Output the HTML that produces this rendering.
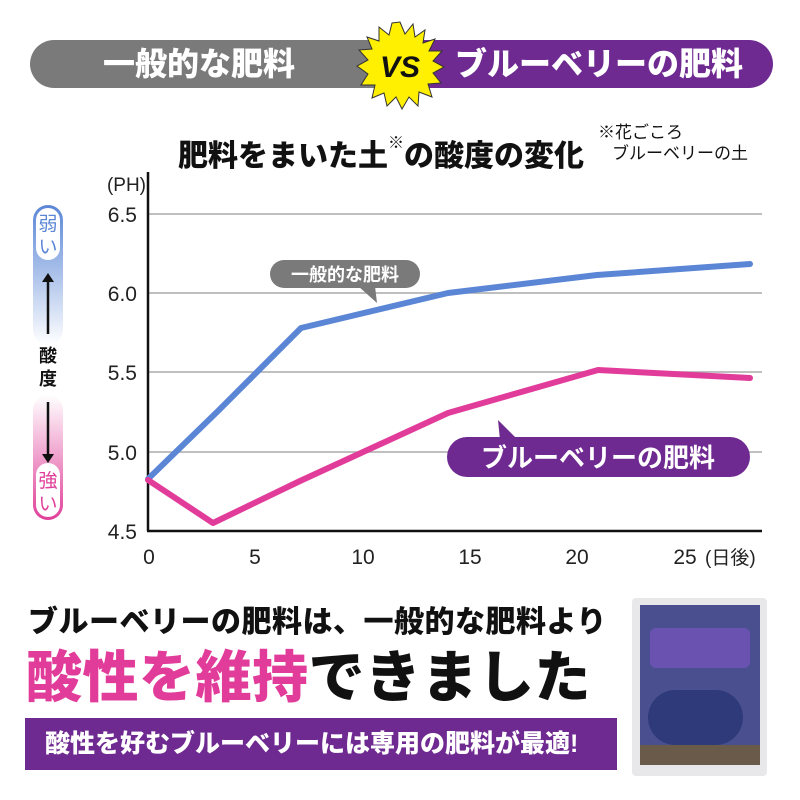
<!DOCTYPE html>
<html><head><meta charset="utf-8"><style>
html,body{margin:0;padding:0;background:#fff;}
body{width:800px;height:800px;position:relative;overflow:hidden;font-family:"Liberation Sans","Noto Sans CJK JP",sans-serif;}
.a{position:absolute;white-space:nowrap;}
.b{font-weight:900;}
</style></head><body>
<div class="a" style="left:30px;top:40px;width:380px;height:48px;background:#7a7a7a;border-radius:24px 0 0 24px;"></div>
<div class="a" style="left:400px;top:40px;width:373px;height:48px;background:#6f2a92;border-radius:0 24px 24px 0;"></div>
<div class="a b" style="left:103px;top:43px;font-size:32px;color:#fff;line-height:42px;">一般的な肥料</div>
<div class="a b" style="left:455px;top:43px;font-size:32px;color:#fff;line-height:42px;">ブルーベリーの肥料</div>
<svg class="a" style="left:355px;top:20px" width="90" height="90" viewBox="0 0 90 90">
<polygon fill="#ffef00" stroke="#333" stroke-width="1" points="45,2 50,14 58,4 60,17 70,10 68,23 80,19 74,31 87,31 78,41 89,47 78,53 86,63 73,64 77,77 64,72 63,86 54,77 47,89 41,77 32,86 29,73 17,78 20,65 6,65 13,54 2,46 13,40 4,30 17,29 12,17 24,21 24,7 34,15 37,3"/>
<text x="45" y="57" text-anchor="middle" font-family="Liberation Sans,sans-serif" font-weight="bold" font-style="italic" font-size="30" fill="#111">VS</text>
</svg>
<div class="a b" style="left:178px;top:126px;font-size:30px;line-height:36px;color:#111;">肥料をまいた土<span style="font-size:16px;vertical-align:18px;">※</span>の酸度の変化</div>
<div class="a" style="left:598px;top:122px;font-size:17px;line-height:21px;color:#111;">※花ごころ<br><span style="padding-left:14px">ブルーベリーの土</span></div>
<svg class="a" style="left:0;top:0" width="800" height="600">
<defs>
<linearGradient id="g1" x1="0" y1="0" x2="0" y2="1"><stop offset="0" stop-color="#5b86d6"/><stop offset="1" stop-color="#fff"/></linearGradient>
<linearGradient id="g2" x1="0" y1="0" x2="0" y2="1"><stop offset="0" stop-color="#fff"/><stop offset="1" stop-color="#e0409a"/></linearGradient>
</defs>
<rect x="33" y="205" width="30" height="140" rx="15" fill="url(#g1)"/>
<rect x="36" y="208" width="24" height="52" rx="12" fill="#fff"/>
<rect x="33" y="395" width="30" height="125" rx="15" fill="url(#g2)"/>
<rect x="36" y="463" width="24" height="54" rx="12" fill="#fff"/>
<text x="48" y="230" text-anchor="middle" font-size="19" fill="#5b86d6" font-family="Noto Sans CJK JP,sans-serif">弱</text>
<text x="48" y="253" text-anchor="middle" font-size="19" fill="#5b86d6" font-family="Noto Sans CJK JP,sans-serif">い</text>
<text x="48" y="487" text-anchor="middle" font-size="19" fill="#e0409a" font-family="Noto Sans CJK JP,sans-serif">強</text>
<text x="48" y="510" text-anchor="middle" font-size="19" fill="#e0409a" font-family="Noto Sans CJK JP,sans-serif">い</text>
<line x1="48" y1="278" x2="48" y2="334" stroke="#111" stroke-width="2.5"/><polygon points="42,282 54,282 48,273" fill="#111"/>
<line x1="48" y1="402" x2="48" y2="458" stroke="#111" stroke-width="2.5"/><polygon points="42,454 54,454 48,463" fill="#111"/>
<text x="48" y="362" text-anchor="middle" font-size="18" font-weight="bold" fill="#111" font-family="Noto Sans CJK JP,sans-serif">酸</text>
<text x="48" y="385" text-anchor="middle" font-size="18" font-weight="bold" fill="#111" font-family="Noto Sans CJK JP,sans-serif">度</text>
<g stroke="#aaa" stroke-width="1.5">
<line x1="148" y1="214" x2="762" y2="214"/><line x1="148" y1="293" x2="762" y2="293"/><line x1="148" y1="372" x2="762" y2="372"/><line x1="148" y1="452" x2="762" y2="452"/>
</g>
<line x1="148" y1="172" x2="148" y2="531" stroke="#111" stroke-width="2.5"/>
<line x1="147" y1="531" x2="762" y2="531" stroke="#111" stroke-width="2.5"/>
<g font-family="Liberation Sans,sans-serif" font-size="21" fill="#222" text-anchor="end">
<text x="137" y="222">6.5</text><text x="137" y="301">6.0</text><text x="137" y="380">5.5</text><text x="137" y="460">5.0</text><text x="137" y="539">4.5</text>
<text x="146" y="191" font-size="19">(PH)</text>
</g>
<g font-family="Liberation Sans,sans-serif" font-size="21" fill="#222" text-anchor="middle">
<text x="149" y="564">0</text><text x="255" y="564">5</text><text x="363" y="564">10</text><text x="470" y="564">15</text><text x="577" y="564">20</text><text x="685" y="564">25</text>
</g>
<text x="705" y="564" font-size="19" fill="#222" font-family="Liberation Sans,Noto Sans CJK JP,sans-serif">(日後)</text>
<polyline fill="none" stroke="#5b86d6" stroke-width="6" stroke-linejoin="round" stroke-linecap="round" points="148,479 218,411 301,328 448,293 597,275 750,264"/>
<polyline fill="none" stroke="#e23c9b" stroke-width="6" stroke-linejoin="round" stroke-linecap="round" points="148,480 213,523 300,481 448,413 598,370 750,378"/>
<rect x="270" y="260" width="150" height="28" rx="14" fill="#7a7a7a"/>
<polygon points="358,286 375,286 377,303" fill="#7a7a7a"/>
<text x="345" y="281" text-anchor="middle" font-size="18" font-weight="bold" fill="#fff" font-family="Noto Sans CJK JP,sans-serif">一般的な肥料</text>
<rect x="447" y="437" width="303" height="40" rx="20" fill="#6f2a92"/>
<polygon points="498,420 500,440 518,440" fill="#6f2a92"/>
<text x="598" y="467" text-anchor="middle" font-size="26" font-weight="bold" fill="#fff" font-family="Noto Sans CJK JP,sans-serif">ブルーベリーの肥料</text>
</svg>
<div class="a b" style="left:28px;top:603px;font-size:30px;line-height:40px;color:#111;letter-spacing:0.5px;">ブルーベリーの肥料は、一般的な肥料より</div>
<div class="a b" style="left:26px;top:645px;font-size:56px;line-height:66px;color:#111;letter-spacing:0.5px;"><span style="color:#e23c9b">酸性を維持</span>できました</div>
<div class="a" style="left:25px;top:718px;width:592px;height:52px;background:#6f2a92;"></div>
<div class="a b" style="left:45px;top:727px;font-size:25px;line-height:34px;color:#fff;">酸性を好むブルーベリーには専用の肥料が最適!</div>
<div class="a" style="left:632px;top:598px;width:135px;height:178px;background:#e8e8ea;border-radius:4px;"></div>
<div class="a" style="left:640px;top:605px;width:120px;height:160px;background:#4a4f8f;"></div>
<div class="a" style="left:650px;top:628px;width:100px;height:40px;background:#6a52b0;border-radius:6px;"></div>
<div class="a" style="left:648px;top:690px;width:95px;height:55px;background:#2f3a7a;border-radius:30px;"></div>
<div class="a" style="left:640px;top:745px;width:120px;height:20px;background:#6a5a4a;"></div>
</body></html>
